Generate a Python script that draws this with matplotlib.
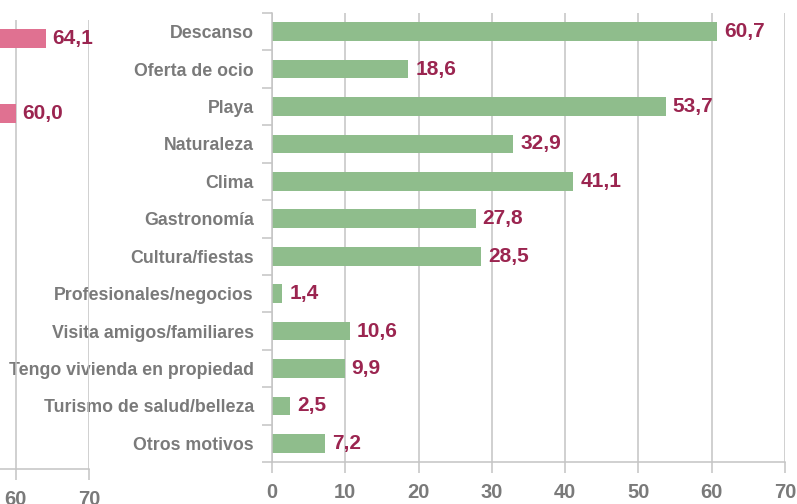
import matplotlib
matplotlib.use("Agg")
import matplotlib.pyplot as plt
import numpy as np

plt.rcParams['font.family'] = ['Liberation Sans', 'DejaVu Sans']

categories = ["Descanso", "Oferta de ocio", "Playa", "Naturaleza", "Clima",
              "Gastronomía", "Cultura/fiestas", "Profesionales/negocios",
              "Visita amigos/familiares", "Tengo vivienda en propiedad",
              "Turismo de salud/belleza", "Otros motivos"]
values = [60.7, 18.6, 53.7, 32.9, 41.1, 27.8, 28.5, 1.4, 10.6, 9.9, 2.5, 7.2]

# partially visible neighbouring chart (only visible bars)
left_idx = [0, 2]
left_values = [64.1, 60.0]

xticks = [0, 10, 20, 30, 40, 50, 60, 70]
left_visible_ticks = [60, 70]

GREEN = "#8FBD8C"
PINK = "#E07191"
LABEL = "#9B2550"
GREY_TXT = "#7a7a7a"
GRID = "#c4c4c4"

W, H = 797, 504
fig = plt.figure(figsize=(W / 100, H / 100), dpi=100)


def style_axes(ax, labels):
    ax.set_xlim(0, 70)
    ax.set_ylim(len(categories) - 0.5, -0.5)
    ax.set_xticks(xticks)
    ax.set_xticklabels(labels, fontsize=14.5, fontweight='bold', color=GREY_TXT)
    ax.tick_params(axis='x', length=8, width=1.1, color=GRID, pad=7)
    ax.grid(axis='x', color=GRID, linewidth=1.1, zorder=0)
    ax.set_axisbelow(True)
    for s in ['top', 'right']:
        ax.spines[s].set_visible(False)
    ax.spines['bottom'].set_color(GRID)
    ax.spines['bottom'].set_linewidth(1.1)
    ax.spines['left'].set_color(GRID)
    ax.spines['left'].set_linewidth(1.1)


def fmt(v):
    return f"{v:.1f}".replace('.', ',')


# main chart
ax = fig.add_axes([272 / W, (H - 462) / H, 513 / W, 449 / H], zorder=1)
style_axes(ax, [str(t) for t in xticks])
ax.patch.set_visible(False)
y = np.arange(len(categories))
ax.barh(y, values, height=0.5, color=GREEN, zorder=2)
ax.set_yticks(np.arange(-0.5, len(categories), 1))
ax.set_yticklabels([])
ax.set_yticks(y, minor=True)
ax.set_yticklabels(categories, minor=True, fontsize=12.8, fontweight='bold',
                   color=GREY_TXT)
ax.tick_params(axis='y', which='major', length=7.5, width=1.1, color=GRID)
ax.tick_params(axis='y', which='minor', length=0, pad=13)
for yi, v in zip(y, values):
    ax.annotate(fmt(v), (v, yi), xytext=(5, 0), textcoords='offset points',
                va='center', ha='left', fontsize=15, fontweight='bold',
                color=LABEL, zorder=3)

# left (cropped) chart, drawn over the main chart's category labels
ax2 = fig.add_axes([-424 / W, (H - 469) / H, 513 / W, 449 / H], zorder=2)
style_axes(ax2, [str(t) if t in left_visible_ticks else "" for t in xticks])
ax2.patch.set_visible(False)
ax2.barh(left_idx, left_values, height=0.5, color=PINK, zorder=2)
ax2.set_yticks([])
ax2.spines['left'].set_visible(False)
for yi, v in zip(left_idx, left_values):
    ax2.annotate(fmt(v), (v, yi), xytext=(5, 0), textcoords='offset points',
                 va='center', ha='left', fontsize=15, fontweight='bold',
                 color=LABEL, zorder=3)

fig.savefig("out.png", dpi=100)
